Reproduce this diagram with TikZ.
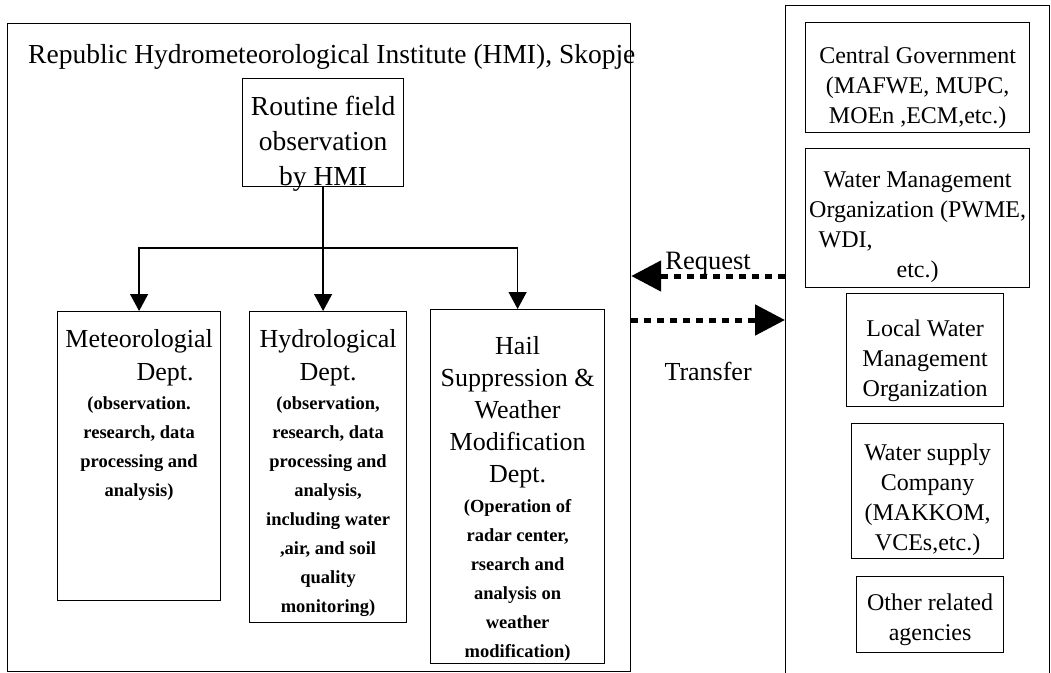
\documentclass[tikz,border=0pt]{standalone}
\usepackage{fontspec}
\setmainfont{Liberation Serif}
\usetikzlibrary{
arrows.meta,
positioning
}

\begin{document}
\begin{tikzpicture}[
x=1pt,y=-1pt,
panel/.style={
draw,
line width=1.2pt,
inner sep=0pt,
anchor=north west
},
dept/.style={font=\fontsize{26}{33}\selectfont,align=center,inner sep=0pt},
detail/.style={font=\bfseries\fontsize{18.5}{29}\selectfont,align=center,inner sep=0pt},
agency/.style={font=\fontsize{24}{30}\selectfont,align=center,inner sep=0pt},
link/.style={line width=1.3pt,-{Triangle[length=17pt,width=18pt]}},
flow/.style={line width=5pt,dash pattern=on 7pt off 6pt,-{Triangle[length=30pt,width=30pt]}}
]
\useasboundingbox (0,0) rectangle (1051,672);

% HMI
\node[panel,minimum width=623pt,minimum height=648pt] (hmi) at (7,23) {};
\node[anchor=base west,inner sep=0pt,font=\fontsize{27.5}{30}\selectfont] (title) at (28,63)
{Republic Hydrometeorological Institute (HMI), Skopje};

\node[panel,minimum width=161pt,minimum height=108pt] (routine) at (242,78) {};
\node[dept,font=\fontsize{27.5}{35}\selectfont,below=18pt of routine.north] (routineT) {Routine field\\observation\\by HMI};

\node[panel,minimum width=163pt,minimum height=289pt] (met) at (57,311) {};
\node[dept,below=18pt of met.north] (metH) {Meteorologial\\\hspace*{52pt}Dept.};
\node[detail,below=10pt of metH] (metS) {(observation.\\research, data\\processing and\\analysis)};

\node[panel,minimum width=157pt,minimum height=311pt] (hydro) at (249,311) {};
\node[dept,below=18pt of hydro.north] (hydroH) {Hydrological\\Dept.};
\node[detail,below=10pt of hydroH] (hydroS) {(observation,\\research, data\\processing and\\analysis,\\including water\\,air, and soil\\quality\\monitoring)};

\node[panel,minimum width=174pt,minimum height=354pt] (hail) at (430,309) {};
\node[dept,font=\fontsize{26}{32}\selectfont,below=27pt of hail.north] (hailH) {Hail\\Suppression \&\\Weather\\Modification\\Dept.};
\node[detail,below=11pt of hailH] (hailS) {(Operation of\\radar center,\\rsearch and\\analysis on\\weather\\modification)};

\coordinate (fork) at (325,248);
\draw[link] (routine.south) -- (routine.south |- hydro.north);
\draw[link] (routine.south |- fork) -| (met.north);
\draw[link] (routine.south |- fork) -| (hail.north);

% agencies
\node[panel,minimum width=264pt,minimum height=668pt] (agencies) at (785,5) {};

\node[panel,minimum width=224pt,minimum height=110pt] (gov) at (805,22) {};
\node[agency,below=25pt of gov.north] (govT) {Central Government\\(MAFWE, MUPC,\\MOEn ,ECM,etc.)};

\node[panel,minimum width=224pt,minimum height=139pt] (water) at (805,148) {};
\node[agency,below=24pt of water.north] (waterT) {Water Management\\Organization (PWME,\\\makebox[220pt][l]{\hspace*{11pt}WDI,}\\etc.)};

\node[panel,minimum width=157pt,minimum height=113pt] (local) at (846,293) {};
\node[agency,below=27pt of local.north] (localT) {Local Water\\Management\\Organization};

\node[panel,minimum width=152pt,minimum height=135pt] (supply) at (851,423) {};
\node[agency,below=21pt of supply.north] (supplyT) {Water supply\\Company\\(MAKKOM,\\VCEs,etc.)};

\node[panel,minimum width=147pt,minimum height=76pt] (other) at (856,576) {};
\node[agency,below=18pt of other.north] (otherT) {Other related\\agencies};

% request / transfer
\coordinate (reqY) at (0,276);
\coordinate (trfY) at (0,320);
\draw[flow] (agencies.west |- reqY) -- (hmi.east |- reqY)
node[midway,anchor=base,yshift=7pt,font=\fontsize{26.5}{30}\selectfont] (reqL) {Request};
\draw[flow] (hmi.east |- trfY) -- (agencies.west |- trfY)
node[midway,anchor=base,yshift=-60pt,font=\fontsize{26}{30}\selectfont] (trfL) {Transfer};

\end{tikzpicture}
\end{document}
